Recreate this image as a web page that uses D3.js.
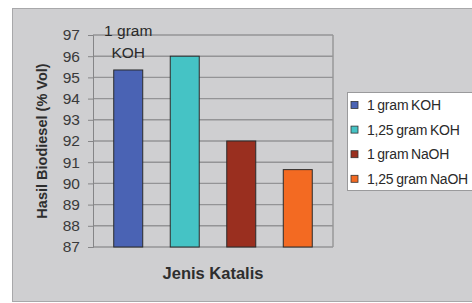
<!DOCTYPE html>
<html>
<head>
<meta charset="utf-8">
<script src="https://cdn.jsdelivr.net/npm/d3@7"></script>
<style>
  body { margin: 0; background: #fff; }
  svg { display: block; font-family: "Liberation Sans", Arial, sans-serif; }
</style>
</head>
<body>
<svg id="chart" width="472" height="303"></svg>
<script>
// data
var series = ["1 gram KOH", "1,25 gram KOH", "1 gram NaOH", "1,25 gram NaOH"];
var values = [95.35, 96.0, 92.0, 90.65];
var colors = ["#4a63b4", "#45c3c5", "#9a2f1f", "#f36a22"];
var yTicks = [87, 88, 89, 90, 91, 92, 93, 94, 95, 96, 97];

var svg = d3.select("#chart");

// chart background
svg.append("rect").attr("x", 12.5).attr("y", 8.5).attr("width", 470).attr("height", 293)
    .style("fill", "#cfcfd1").style("stroke", "#a8a8aa");

var plot = {left: 93, right: 333, top: 35, bottom: 247};

var x = d3.scaleBand().domain(series).range([plot.left, plot.right])
    .paddingInner(0.487).paddingOuter(0.367);
var y = d3.scaleLinear().domain([87, 97]).range([plot.bottom, plot.top]);

// gridlines
svg.append("g").selectAll("line").data(yTicks).enter().append("line")
    .attr("x1", plot.left).attr("x2", plot.right)
    .attr("y1", d => y(d)).attr("y2", d => y(d))
    .style("stroke", "#949496").style("stroke-width", 1.4);

// right border of plot area
svg.append("line").attr("x1", plot.right).attr("x2", plot.right)
    .attr("y1", plot.top).attr("y2", plot.bottom)
    .style("stroke", "#949496").style("stroke-width", 1.4);

// y axis
var yAxis = d3.axisLeft(y).tickValues(yTicks).tickSize(5).tickPadding(8);
var gy = svg.append("g").attr("transform", "translate(" + plot.left + ",0)").call(yAxis);
gy.select(".domain").style("stroke", "#858587");
gy.selectAll(".tick line").style("stroke", "#858587");
gy.selectAll("text").style("font-size", "15.5px").style("fill", "#3a3a3a")
    .style("font-family", "Liberation Sans, Arial, sans-serif");

// bars
svg.append("g").selectAll("rect").data(values).enter().append("rect")
    .attr("x", (d, i) => x(series[i]))
    .attr("y", d => y(d))
    .attr("width", x.bandwidth())
    .attr("height", d => y(87) - y(d))
    .style("fill", (d, i) => colors[i])
    .style("stroke", "#2b2b2b").style("stroke-width", 1);

// label over first bar
var lbl = svg.append("text").attr("text-anchor", "middle")
    .style("font-size", "15.5px").style("fill", "#2a2a2a");
lbl.append("tspan").attr("x", x(series[0]) + x.bandwidth() / 2).attr("y", 36).text("1 gram");
lbl.append("tspan").attr("x", x(series[0]) + x.bandwidth() / 2).attr("y", 58).text("KOH");

// axis titles
svg.append("text").attr("x", 213).attr("y", 279).attr("text-anchor", "middle")
    .style("font-size", "16.5px").style("font-weight", "bold").style("fill", "#2e2e2e")
    .text("Jenis Katalis");

svg.append("text").attr("transform", "translate(47," + ((plot.top + plot.bottom) / 2) + ") rotate(-90)")
    .attr("text-anchor", "middle")
    .style("font-size", "14.5px").style("font-weight", "bold").style("fill", "#2e2e2e")
    .text("Hasil Biodiesel (% Vol)");

// legend
var legend = svg.append("g");
legend.append("rect").attr("x", 347.5).attr("y", 92.5).attr("width", 130).attr("height", 98)
    .style("fill", "#fff").style("stroke", "#9a9a9c");

var items = legend.selectAll("g.item").data(series).enter().append("g")
    .attr("transform", (d, i) => "translate(0," + (105 + i * 24.6) + ")");
items.append("rect").attr("x", 351).attr("y", -3.5).attr("width", 7).attr("height", 7)
    .style("fill", (d, i) => colors[i]).style("stroke", "#333").style("stroke-width", 0.8);
items.append("text").attr("x", 367).attr("y", 0).attr("dy", "0.36em")
    .style("font-size", "14px").style("fill", "#2a2a2a").style("letter-spacing", "-0.2px")
    .style("word-spacing", "-1px")
    .text(d => d);
</script>
</body>
</html>
